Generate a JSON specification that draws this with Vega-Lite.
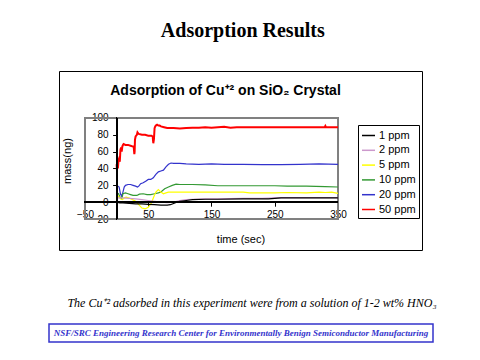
{
  "$schema": "https://vega.github.io/schema/vega-lite/v6.json",
  "padding": {"left": 48, "top": 20, "right": 0, "bottom": 0},
  "background": "white",
  "title": {"text": "Adsorption Results", "font": "Liberation Serif", "fontSize": 20, "fontWeight": "bold", "color": "black", "anchor": "middle", "offset": 30},
  "spacing": 45,
  "config": {"concat": {"spacing": 0}, "axis": {"labelOverlap": false, "labelBound": false}},
  "vconcat": [
    {
      "hconcat": [
        {"width": 9, "height": 179, "data": {"values": []}, "mark": "point", "view": {"stroke": null}},
        {
          "width": 363,
          "height": 179,
          "view": {"stroke": "black", "strokeWidth": 1, "fill": "white"},
          "title": {"text": "Adsorption of Cu⁺² on SiO₂ Crystal", "font": "Liberation Sans", "fontSize": 14, "fontWeight": "bold", "color": "black", "anchor": "middle", "dx": -15, "offset": -27},
          "data": {"values": [
            {"s": "50 ppm", "t": 0, "m": 45}, {"s": "50 ppm", "t": 0.5, "m": 38}, {"s": "50 ppm", "t": 1, "m": 47}, {"s": "50 ppm", "t": 2, "m": 40}, {"s": "50 ppm", "t": 3, "m": 50}, {"s": "50 ppm", "t": 4, "m": 52}, {"s": "50 ppm", "t": 5, "m": 48}, {"s": "50 ppm", "t": 6, "m": 62}, {"s": "50 ppm", "t": 7, "m": 65}, {"s": "50 ppm", "t": 8, "m": 60}, {"s": "50 ppm", "t": 9, "m": 66}, {"s": "50 ppm", "t": 10, "m": 68}, {"s": "50 ppm", "t": 11, "m": 69}, {"s": "50 ppm", "t": 14, "m": 68}, {"s": "50 ppm", "t": 18, "m": 68}, {"s": "50 ppm", "t": 22, "m": 67}, {"s": "50 ppm", "t": 26, "m": 66}, {"s": "50 ppm", "t": 27, "m": 66}, {"s": "50 ppm", "t": 28, "m": 57}, {"s": "50 ppm", "t": 28.5, "m": 60}, {"s": "50 ppm", "t": 29, "m": 74}, {"s": "50 ppm", "t": 30, "m": 78}, {"s": "50 ppm", "t": 32, "m": 80}, {"s": "50 ppm", "t": 33, "m": 83}, {"s": "50 ppm", "t": 35, "m": 81}, {"s": "50 ppm", "t": 40, "m": 80}, {"s": "50 ppm", "t": 45, "m": 80}, {"s": "50 ppm", "t": 50, "m": 79}, {"s": "50 ppm", "t": 55, "m": 79}, {"s": "50 ppm", "t": 57, "m": 78}, {"s": "50 ppm", "t": 58, "m": 70}, {"s": "50 ppm", "t": 59, "m": 75}, {"s": "50 ppm", "t": 60, "m": 88}, {"s": "50 ppm", "t": 61, "m": 90}, {"s": "50 ppm", "t": 62, "m": 91}, {"s": "50 ppm", "t": 64, "m": 92}, {"s": "50 ppm", "t": 66, "m": 91}, {"s": "50 ppm", "t": 68, "m": 91}, {"s": "50 ppm", "t": 70, "m": 90}, {"s": "50 ppm", "t": 75, "m": 89}, {"s": "50 ppm", "t": 80, "m": 88}, {"s": "50 ppm", "t": 90, "m": 88}, {"s": "50 ppm", "t": 100, "m": 87.5}, {"s": "50 ppm", "t": 110, "m": 88}, {"s": "50 ppm", "t": 120, "m": 88.5}, {"s": "50 ppm", "t": 130, "m": 88.5}, {"s": "50 ppm", "t": 140, "m": 89}, {"s": "50 ppm", "t": 150, "m": 88.5}, {"s": "50 ppm", "t": 160, "m": 89}, {"s": "50 ppm", "t": 170, "m": 89.5}, {"s": "50 ppm", "t": 180, "m": 88.5}, {"s": "50 ppm", "t": 190, "m": 89}, {"s": "50 ppm", "t": 230, "m": 89}, {"s": "50 ppm", "t": 280, "m": 89}, {"s": "50 ppm", "t": 329, "m": 89}, {"s": "50 ppm", "t": 330, "m": 90.5}, {"s": "50 ppm", "t": 331, "m": 89}, {"s": "50 ppm", "t": 350, "m": 89},
            {"s": "20 ppm", "t": 0, "m": 20}, {"s": "20 ppm", "t": 2, "m": 19}, {"s": "20 ppm", "t": 4, "m": 18}, {"s": "20 ppm", "t": 6, "m": 10}, {"s": "20 ppm", "t": 8, "m": 7}, {"s": "20 ppm", "t": 10, "m": 12}, {"s": "20 ppm", "t": 12, "m": 18}, {"s": "20 ppm", "t": 14, "m": 20}, {"s": "20 ppm", "t": 18, "m": 21}, {"s": "20 ppm", "t": 22, "m": 21}, {"s": "20 ppm", "t": 26, "m": 20}, {"s": "20 ppm", "t": 30, "m": 19}, {"s": "20 ppm", "t": 33, "m": 18}, {"s": "20 ppm", "t": 35, "m": 19}, {"s": "20 ppm", "t": 38, "m": 22}, {"s": "20 ppm", "t": 42, "m": 23}, {"s": "20 ppm", "t": 46, "m": 25}, {"s": "20 ppm", "t": 50, "m": 27}, {"s": "20 ppm", "t": 54, "m": 27}, {"s": "20 ppm", "t": 58, "m": 29}, {"s": "20 ppm", "t": 62, "m": 33}, {"s": "20 ppm", "t": 66, "m": 36}, {"s": "20 ppm", "t": 70, "m": 37}, {"s": "20 ppm", "t": 74, "m": 38}, {"s": "20 ppm", "t": 78, "m": 42}, {"s": "20 ppm", "t": 82, "m": 45}, {"s": "20 ppm", "t": 86, "m": 46.5}, {"s": "20 ppm", "t": 90, "m": 46}, {"s": "20 ppm", "t": 100, "m": 46}, {"s": "20 ppm", "t": 110, "m": 45.5}, {"s": "20 ppm", "t": 130, "m": 45}, {"s": "20 ppm", "t": 150, "m": 45.5}, {"s": "20 ppm", "t": 170, "m": 45}, {"s": "20 ppm", "t": 200, "m": 45}, {"s": "20 ppm", "t": 230, "m": 44.5}, {"s": "20 ppm", "t": 260, "m": 44.5}, {"s": "20 ppm", "t": 290, "m": 45}, {"s": "20 ppm", "t": 320, "m": 45.5}, {"s": "20 ppm", "t": 350, "m": 45},
            {"s": "10 ppm", "t": 0, "m": 11}, {"s": "10 ppm", "t": 3, "m": 10}, {"s": "10 ppm", "t": 6, "m": 5}, {"s": "10 ppm", "t": 8, "m": 4}, {"s": "10 ppm", "t": 10, "m": 10}, {"s": "10 ppm", "t": 14, "m": 11}, {"s": "10 ppm", "t": 18, "m": 10}, {"s": "10 ppm", "t": 22, "m": 9}, {"s": "10 ppm", "t": 26, "m": 8}, {"s": "10 ppm", "t": 32, "m": 8}, {"s": "10 ppm", "t": 36, "m": 9.5}, {"s": "10 ppm", "t": 42, "m": 10}, {"s": "10 ppm", "t": 48, "m": 9}, {"s": "10 ppm", "t": 54, "m": 9}, {"s": "10 ppm", "t": 60, "m": 10}, {"s": "10 ppm", "t": 66, "m": 11}, {"s": "10 ppm", "t": 70, "m": 12}, {"s": "10 ppm", "t": 76, "m": 16}, {"s": "10 ppm", "t": 82, "m": 18}, {"s": "10 ppm", "t": 88, "m": 20}, {"s": "10 ppm", "t": 94, "m": 21.5}, {"s": "10 ppm", "t": 100, "m": 21}, {"s": "10 ppm", "t": 120, "m": 21}, {"s": "10 ppm", "t": 140, "m": 20.5}, {"s": "10 ppm", "t": 160, "m": 19.5}, {"s": "10 ppm", "t": 200, "m": 19.5}, {"s": "10 ppm", "t": 250, "m": 19.5}, {"s": "10 ppm", "t": 270, "m": 19}, {"s": "10 ppm", "t": 300, "m": 19}, {"s": "10 ppm", "t": 330, "m": 18.5}, {"s": "10 ppm", "t": 350, "m": 18},
            {"s": "5 ppm", "t": 0, "m": 8}, {"s": "5 ppm", "t": 3, "m": 7}, {"s": "5 ppm", "t": 6, "m": 4}, {"s": "5 ppm", "t": 9, "m": 3}, {"s": "5 ppm", "t": 12, "m": 5}, {"s": "5 ppm", "t": 15, "m": 6}, {"s": "5 ppm", "t": 20, "m": 5}, {"s": "5 ppm", "t": 25, "m": 3}, {"s": "5 ppm", "t": 30, "m": 1}, {"s": "5 ppm", "t": 35, "m": -3}, {"s": "5 ppm", "t": 40, "m": -7}, {"s": "5 ppm", "t": 45, "m": -8}, {"s": "5 ppm", "t": 50, "m": -6}, {"s": "5 ppm", "t": 55, "m": -1}, {"s": "5 ppm", "t": 58, "m": 5}, {"s": "5 ppm", "t": 62, "m": 12}, {"s": "5 ppm", "t": 66, "m": 15}, {"s": "5 ppm", "t": 70, "m": 12}, {"s": "5 ppm", "t": 74, "m": 10}, {"s": "5 ppm", "t": 78, "m": 11}, {"s": "5 ppm", "t": 82, "m": 12}, {"s": "5 ppm", "t": 100, "m": 12}, {"s": "5 ppm", "t": 150, "m": 12}, {"s": "5 ppm", "t": 200, "m": 12}, {"s": "5 ppm", "t": 210, "m": 11}, {"s": "5 ppm", "t": 250, "m": 11}, {"s": "5 ppm", "t": 270, "m": 11.5}, {"s": "5 ppm", "t": 300, "m": 11}, {"s": "5 ppm", "t": 320, "m": 12}, {"s": "5 ppm", "t": 330, "m": 11.5}, {"s": "5 ppm", "t": 340, "m": 12}, {"s": "5 ppm", "t": 350, "m": 10.5},
            {"s": "2 ppm", "t": 0, "m": 5}, {"s": "2 ppm", "t": 10, "m": 5}, {"s": "2 ppm", "t": 20, "m": 4.5}, {"s": "2 ppm", "t": 30, "m": 4}, {"s": "2 ppm", "t": 40, "m": 3}, {"s": "2 ppm", "t": 50, "m": 2}, {"s": "2 ppm", "t": 60, "m": 1}, {"s": "2 ppm", "t": 70, "m": 0}, {"s": "2 ppm", "t": 80, "m": -0.5}, {"s": "2 ppm", "t": 90, "m": 0}, {"s": "2 ppm", "t": 100, "m": 2}, {"s": "2 ppm", "t": 110, "m": 3}, {"s": "2 ppm", "t": 120, "m": 3.5}, {"s": "2 ppm", "t": 140, "m": 4}, {"s": "2 ppm", "t": 160, "m": 4}, {"s": "2 ppm", "t": 200, "m": 4.5}, {"s": "2 ppm", "t": 230, "m": 4.5}, {"s": "2 ppm", "t": 260, "m": 5.5}, {"s": "2 ppm", "t": 300, "m": 5.5}, {"s": "2 ppm", "t": 350, "m": 5.5},
            {"s": "1 ppm", "t": 0, "m": 0}, {"s": "1 ppm", "t": 5, "m": -1}, {"s": "1 ppm", "t": 10, "m": -1}, {"s": "1 ppm", "t": 20, "m": -1.5}, {"s": "1 ppm", "t": 30, "m": -2}, {"s": "1 ppm", "t": 40, "m": -2}, {"s": "1 ppm", "t": 50, "m": -2.5}, {"s": "1 ppm", "t": 60, "m": -3}, {"s": "1 ppm", "t": 70, "m": -3.5}, {"s": "1 ppm", "t": 80, "m": -3.5}, {"s": "1 ppm", "t": 85, "m": -3}, {"s": "1 ppm", "t": 90, "m": -1.5}, {"s": "1 ppm", "t": 95, "m": 0}, {"s": "1 ppm", "t": 100, "m": 1}, {"s": "1 ppm", "t": 110, "m": 2}, {"s": "1 ppm", "t": 120, "m": 3}, {"s": "1 ppm", "t": 140, "m": 3.5}, {"s": "1 ppm", "t": 160, "m": 3.5}, {"s": "1 ppm", "t": 200, "m": 4}, {"s": "1 ppm", "t": 240, "m": 4}, {"s": "1 ppm", "t": 260, "m": 5}, {"s": "1 ppm", "t": 300, "m": 5}, {"s": "1 ppm", "t": 350, "m": 5}
          ]},
          "layer": [
            {
              "mark": {"type": "rect", "fill": null, "stroke": "#808080", "strokeWidth": 1},
              "encoding": {
                "x": {"datum": -50, "type": "quantitative", "title": "time (sec)",
                  "scale": {"domain": [-91.1, 482.8], "nice": false, "zero": false},
                  "axis": {"values": [-50, 50, 150, 250, 350], "tickCount": 20, "offset": -47.8, "domain": false, "grid": false, "labelOverlap": false, "labelBound": false, "tickColor": "black", "tickSize": 4, "labelPadding": 3, "labelFont": "Liberation Sans", "labelFontSize": 10, "labelColor": "black", "titleFont": "Liberation Sans", "titleFontSize": 11, "titleFontWeight": "normal", "titleColor": "black", "titlePadding": 14}},
                "x2": {"datum": 350},
                "y": {"datum": -20, "type": "quantitative", "title": "mass(ng)",
                  "scale": {"domain": [-56.8, 155.8], "nice": false, "zero": false},
                  "axis": {"values": [-20, 0, 20, 40, 60, 80, 100], "tickCount": 20, "offset": -57.6, "domain": false, "grid": false, "labelOverlap": false, "labelBound": false, "tickColor": "black", "tickSize": 4, "labelPadding": 4.5, "labelFont": "Liberation Sans", "labelFontSize": 10, "labelColor": "black", "titleFont": "Liberation Sans", "titleFontSize": 11, "titleFontWeight": "normal", "titleColor": "black", "titlePadding": 19}},
                "y2": {"datum": 100}
              }
            },
            {
              "mark": {"type": "line", "interpolate": "linear"},
              "encoding": {
                "x": {"field": "t", "type": "quantitative", "title": "time (sec)"},
                "y": {"field": "m", "type": "quantitative", "title": "mass(ng)"},
                "color": {"field": "s", "type": "nominal",
                  "scale": {"domain": ["1 ppm", "2 ppm", "5 ppm", "10 ppm", "20 ppm", "50 ppm"], "range": ["#000000", "#cc99cc", "#ffff00", "#339933", "#3333cc", "#ff0000"]},
                  "legend": {"title": null, "orient": "none", "legendX": 309, "legendY": 54, "strokeColor": "black", "fillColor": "white", "padding": 3, "rowPadding": 1.8, "symbolType": "stroke", "symbolSize": 169, "symbolStrokeWidth": 1.5, "labelFont": "Liberation Sans", "labelFontSize": 11, "labelColor": "black", "labelOffset": 3}},
                "strokeWidth": {"condition": {"test": "datum.s === '50 ppm'", "value": 2}, "value": 1.2}
              }
            },
            {
              "mark": {"type": "rule", "color": "black", "strokeWidth": 1},
              "encoding": {"x": {"datum": -50}, "x2": {"datum": 350}, "y": {"datum": 0}}
            },
            {
              "mark": {"type": "rule", "color": "black", "strokeWidth": 1},
              "encoding": {"x": {"datum": 0}, "y": {"datum": -20}, "y2": {"datum": 100}}
            }
          ]
        }
      ]
    },
    {
      "width": 384,
      "height": 18,
      "view": {"stroke": "#3333cc", "strokeWidth": 1.5},
      "title": {"text": "The Cu⁺² adsorbed in this experiment were from a solution of 1-2 wt% HNO₃", "font": "Liberation Serif", "fontStyle": "italic", "fontSize": 12, "fontWeight": "normal", "color": "black", "anchor": "middle", "dx": 11, "offset": 14},
      "data": {"values": [{"label": "NSF/SRC Engineering Research Center for Environmentally Benign Semiconductor Manufacturing"}]},
      "mark": {"type": "text", "font": "Liberation Serif", "fontStyle": "italic", "fontWeight": "bold", "fontSize": 9, "color": "#3333cc"},
      "encoding": {"text": {"field": "label"}}
    }
  ]
}
